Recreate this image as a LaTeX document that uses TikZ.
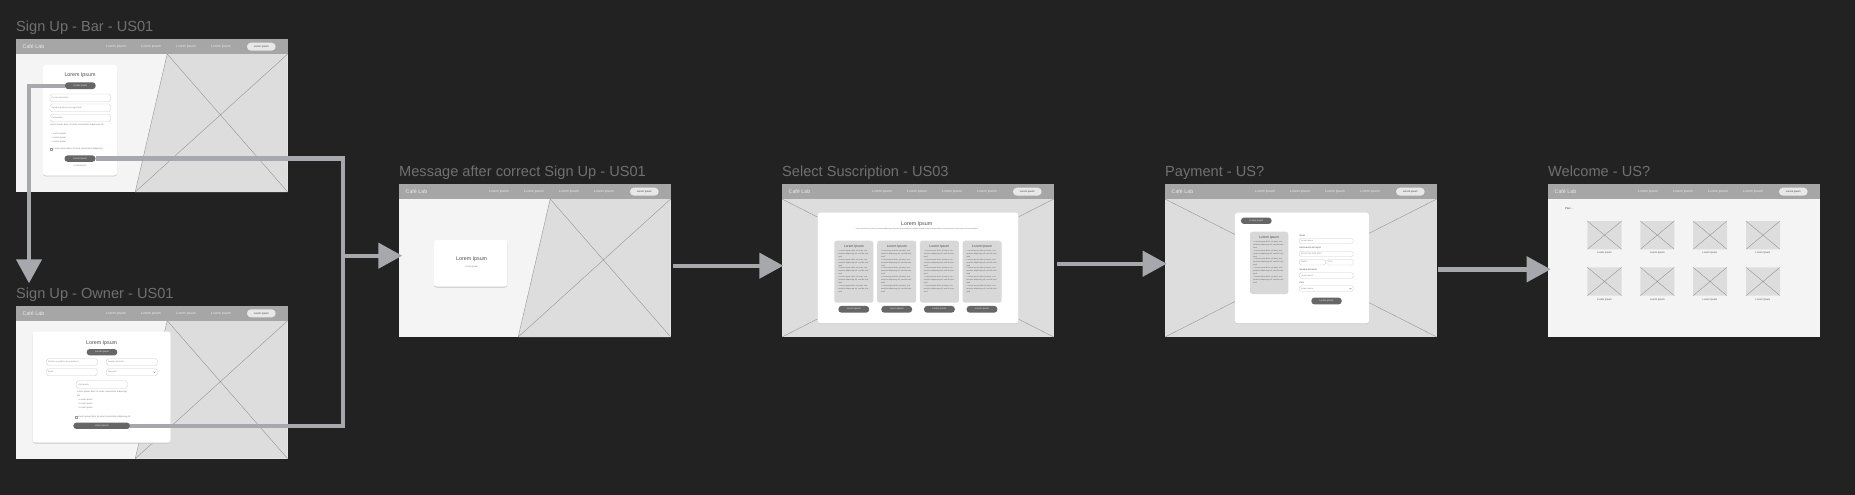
\documentclass[tikz,border=0pt]{standalone}
\usepackage{fontspec}
\setmainfont{Liberation Sans}
\usetikzlibrary{arrows.meta}
\definecolor{bgc}{HTML}{222222}
\definecolor{navc}{HTML}{A6A6A6}
\definecolor{bodyc}{HTML}{F4F4F4}
\definecolor{imgc}{HTML}{DDDDDD}
\definecolor{xlc}{HTML}{8E8E8E}
\definecolor{btnc}{HTML}{666666}
\definecolor{pillc}{HTML}{E8E8E8}
\definecolor{colc}{HTML}{D8D8D8}
\definecolor{conc}{HTML}{A7A8AC}
\definecolor{ttlc}{HTML}{707070}
\definecolor{txc}{HTML}{7A7A7A}
\tikzset{
 ttl/.style={font=\fontsize{14.6}{17}\selectfont,text=ttlc,anchor=base west,inner sep=0},
 xl/.style={draw=xlc,line width=0.35pt},
 btn/.style={fill=btnc,rounded corners=3pt,inner sep=0,text=white!92!black,font=\fontsize{2.4}{3}\selectfont},
 ct5/.style={font=\fontsize{5.3}{6}\selectfont,text=black!70,inner sep=0},
 ct3/.style={font=\fontsize{3.4}{4}\selectfont,text=black!70,inner sep=0},
 tx/.style={font=\fontsize{2.2}{4}\selectfont,text=txc,inner sep=0,align=left},
 bul/.style={font=\fontsize{1.9}{2.9}\selectfont,text=black!60,inner sep=0,align=left},
 ph/.style={font=\fontsize{2.1}{3}\selectfont,text=black!45,inner sep=0},
 fld/.style={draw=black!20,fill=white,rounded corners=1.8pt,line width=0.3pt},
 conn/.style={draw=conc,line width=4.4pt},
 arr/.style={-{Triangle[length=24pt,width=25pt]}},
}
\newcommand\wfnav[2]{%
 \begin{scope}[shift={(#1,#2)}]
 \fill[navc] (0,0) rectangle (271.7,14.7);
 \node[anchor=west,font=\fontsize{5.3}{6}\selectfont,text=white!92!black,inner sep=0] at (6.5,7.35) {Café Lab};
 \foreach \xx in {100,135,170,205} {\node[font=\fontsize{3.4}{4}\selectfont,text=white!92!black,inner sep=0] at (\xx,7.35) {Lorem ipsum};}
 \node[fill=pillc,rounded corners=4pt,minimum width=28.7pt,minimum height=8pt,inner sep=0,font=\fontsize{2.6}{3}\selectfont,text=black!75] at (245.3,7.35) {Lorem ipsum};
 \end{scope}}
\newcommand\wfsplit[2]{%
 \begin{scope}[shift={(#1,#2)}]
 \fill[bodyc] (0,14.7) rectangle (271.7,152.7);
 \fill[imgc] (151.2,14.7) -- (271.7,14.7) -- (271.7,152.7) -- (119.2,152.7) -- cycle;
 \draw[xl] (151.2,14.7) -- (271.7,152.7) (271.7,14.7) -- (119.2,152.7);
 \draw[xl] (151.2,14.7) -- (119.2,152.7);
 \end{scope}}
\newcommand\wffull[2]{%
 \begin{scope}[shift={(#1,#2)}]
 \fill[imgc] (0,14.7) rectangle (271.7,152.7);
 \draw[xl] (0,14.7) -- (271.7,152.7) (271.7,14.7) -- (0,152.7);
 \end{scope}}
\newcommand\wfplain[2]{%
 \begin{scope}[shift={(#1,#2)}]
 \fill[bodyc] (0,14.7) rectangle (271.7,152.7);
 \end{scope}}
\newcommand\wfcard[4]{%
 \fill[black!22,rounded corners=2.5pt] (#1,{#2+0.8}) rectangle (#3,{#4+0.8});
 \fill[white,rounded corners=2.5pt] (#1,#2) rectangle (#3,#4);}
\newcommand\wffield[5]{%
 \draw[fld] (#1,#2) rectangle (#3,#4);
 \node[ph,anchor=west] at ({#1+1.5},{(#2+#4)/2}) {#5};}
\newcommand\wfchev[2]{%
 \draw[black!45,line width=0.3pt] ({#1-1},{#2-0.6}) -- (#1,{#2+0.5}) -- ({#1+1},{#2-0.6});}
\newcommand\wfthumb[4]{%
 \fill[imgc,rounded corners=2pt] (#1,#2) rectangle (#3,#4);
 \draw[xl] (#1,#2) -- (#3,#4) (#3,#2) -- (#1,#4);}
\begin{document}
\begin{tikzpicture}[x=1pt,y=-1pt]
\fill[bgc] (0,0) rectangle (1855,495);
\useasboundingbox (0,0) rectangle (1855,495);

% ---------- titles ----------
\node[ttl] (t1) at (16,31.8) {Sign Up - Bar - US01};
\node[ttl] (t2) at (16,298.5) {Sign Up - Owner - US01};
\node[ttl] (t3) at (399,176.8) {Message after correct Sign Up - US01};
\node[ttl] (t4) at (782,176.8) {Select Suscription - US03};
\node[ttl] (t5) at (1165,176.8) {Payment - US?};
\node[ttl] (t6) at (1548,176.8) {Welcome - US?};

% ---------- frame 1 ----------
\wfsplit{16}{39.3}\wfnav{16}{39.3}
\wfcard{43}{65}{117}{175.5}
\node[ct5] at (80,75.7) {Lorem Ipsum};
\node[btn,minimum width=30.7pt,minimum height=6.7pt] (b1a) at (80.3,85.7) {Lorem ipsum};
\wffield{50}{94}{110.7}{101.7}{Correo electrónico}
\wffield{50}{104}{110.7}{111.7}{Nombre del bar/Local registrado}
\wffield{50}{114.3}{110.7}{121.7}{Contraseña}
\node[tx,anchor=north west,text width=60pt] at (50,124.2) {Lorem ipsum dolor sit amet consectetur adipiscing elit};
\node[tx,anchor=north west,text width=30pt] at (51.5,132.5) {• Lorem ipsum\\• Lorem ipsum\\• Lorem ipsum};
\draw[black!40,line width=0.3pt] (50.3,147.7) rectangle (52.3,149.7);
\node[tx,anchor=west] at (53.5,148.7) {Lorem ipsum dolor sit amet consectetur adipiscing};
\node[btn,minimum width=31pt,minimum height=6.3pt] (b1b) at (80,158.6) {Lorem ipsum};
\node[tx] at (80,165.8) {Lorem ipsum};

% ---------- frame 2 ----------
\wfsplit{16}{306}\wfnav{16}{306}
\wfcard{32.7}{331.7}{170.7}{442.7}
\node[ct5] at (101.7,343) {Lorem Ipsum};
\node[btn,minimum width=30.6pt,minimum height=6.3pt] (b2a) at (102,352.2) {Lorem ipsum};
\wffield{46.3}{358.7}{97.3}{365.3}{Nombre y apellido del propietario}
\wffield{106.3}{358.7}{157.3}{365.3}{Nombre del local}
\wffield{46.3}{368.7}{97.3}{375.7}{Email}
\wffield{106.3}{368.7}{157.3}{375.7}{Dirección}
\wfchev{154.5}{372.2}
\wffield{76.3}{380.7}{127.3}{388.3}{Contraseña}
\node[tx,anchor=north west,text width=50pt] at (77,390.8) {Lorem ipsum dolor sit amet consectetur adipiscing elit};
\node[tx,anchor=north west,text width=30pt] at (78,399.2) {• Lorem ipsum\\• Lorem ipsum\\• Lorem ipsum};
\draw[black!40,line width=0.3pt] (75,415.7) rectangle (77,417.7);
\node[tx,anchor=west] at (78,416.7) {Lorem ipsum dolor sit amet consectetur adipiscing elit};
\node[btn,minimum width=56.7pt,minimum height=6.3pt] (b2b) at (101.7,425.8) {Lorem ipsum};

% ---------- frame 3 ----------
\wfsplit{399}{184.3}\wfnav{399}{184.3}
\wfcard{434}{240}{507.3}{286.7}
\node[ct5] (m3) at (471.7,259) {Lorem Ipsum};
\node[tx] at (471.7,267) {Lorem ipsum};

% ---------- frame 4 ----------
\wffull{782}{184.3}\wfnav{782}{184.3}
\wfcard{817.7}{212.7}{1018.3}{323.3}
\node[ct5] at (916.7,224) {Lorem Ipsum};
\node[font=\fontsize{1.6}{2}\selectfont,text=black!60,inner sep=0] at (916.7,229) {Lorem ipsum dolor sit amet consectetur adipiscing elit sed do eiusmod tempor incididunt ut labore et dolore magna aliqua ut enim ad minim veniam quis nostrud exercitation};
\foreach \cx/\nm in {853.8/a, 896.7/b, 939.4/c, 982/d} {
 \fill[colc,rounded corners=2.5pt] ({\cx-19.5},240.7) rectangle ({\cx+19.5},302.7);
 \node[ct3] at (\cx,246.3) {Lorem Ipsum};
 \node[bul,text width=31pt,anchor=north] at (\cx,250) {• Lorem ipsum dolor sit amet, consectetur adipiscing elit, sed do eiusmod\\• Lorem ipsum dolor sit amet, consectetur adipiscing elit, sed do eiusmod\\• Lorem ipsum dolor sit amet, consectetur adipiscing elit, sed do eiusmod\\• Lorem ipsum dolor sit amet, consectetur adipiscing elit, sed do eiusmod\\• Lorem ipsum dolor sit amet, consectetur adipiscing elit, sed do eiusmod};
 \node[btn,minimum width=30.7pt,minimum height=6.7pt] (s\nm) at (\cx,309.3) {Lorem ipsum};
}

% ---------- frame 5 ----------
\wffull{1165}{184.3}\wfnav{1165}{184.3}
\wfcard{1235}{212.7}{1369}{323.3}
\node[btn,minimum width=30.7pt,minimum height=6.3pt] (p0) at (1256.3,220.8) {Lorem ipsum};
\fill[colc,rounded corners=2.5pt] (1250,231.7) rectangle (1288.3,294);
\node[ct3] at (1269.2,237.3) {Lorem Ipsum};
\node[bul,text width=32pt,anchor=north] at (1269.2,241) {• Lorem ipsum dolor sit amet, consectetur adipiscing elit, sed do eiusmod\\• Lorem ipsum dolor sit amet, consectetur adipiscing elit, sed do eiusmod\\• Lorem ipsum dolor sit amet, consectetur adipiscing elit, sed do eiusmod\\• Lorem ipsum dolor sit amet, consectetur adipiscing elit, sed do eiusmod\\• Lorem ipsum dolor sit amet, consectetur adipiscing elit, sed do eiusmod};
\node[tx,anchor=west,text=black!70] at (1299.3,235.3) {Email};
\wffield{1299.3}{238.3}{1353.3}{243.7}{Lorem ipsum}
\node[tx,anchor=west,text=black!70] at (1299.3,248.3) {Información de tarjeta};
\wffield{1299.3}{251.3}{1353.3}{256.7}{1234 1234 1234 1234}
\wffield{1299.3}{259.3}{1325.7}{265}{MM/YY}
\wffield{1326.7}{259.3}{1353.3}{265}{CVC}
\node[tx,anchor=west,text=black!70] at (1299.3,269.3) {Nombre del titular};
\wffield{1299.3}{272.7}{1353.3}{278.3}{Lorem ipsum}
\node[tx,anchor=west,text=black!70] at (1299.3,282.3) {País};
\wffield{1299.3}{285.7}{1353.3}{291.3}{Lorem ipsum}
\wfchev{1350.5}{288.7}
\node[btn,minimum width=30.4pt,minimum height=6.6pt] (p1) at (1326.5,301) {Lorem ipsum};

% ---------- frame 6 ----------
\wfplain{1548}{184.3}\wfnav{1548}{184.3}
\node[font=\fontsize{2.8}{3.4}\selectfont,text=black!70,anchor=west,inner sep=0] at (1565,208.7) {Plan ...};
\foreach \xa/\xb in {1587.3/1621.7, 1640.3/1674.3, 1693/1727, 1746/1780} {
 \wfthumb{\xa}{221}{\xb}{249.3}
 \wfthumb{\xa}{267.3}{\xb}{295.7}
 \node[font=\fontsize{2.5}{3}\selectfont,text=black!70,inner sep=0] at ({(\xa+\xb)/2},253.3) {Lorem Ipsum};
 \node[font=\fontsize{2.5}{3}\selectfont,text=black!70,inner sep=0] at ({(\xa+\xb)/2},299.7) {Lorem Ipsum};
}

% ---------- connectors ----------
\coordinate (a1end) at (29,283.3);
\coordinate (jn) at (342.7,255.7);
\coordinate (a2end) at (402.3,255.7);
\coordinate (a3s) at (672.7,265.7);
\coordinate (a3e) at (783.3,265.7);
\coordinate (a4s) at (1056.7,263.7);
\coordinate (a4e) at (1166.7,263.7);
\coordinate (a5s) at (1437.7,269.3);
\coordinate (a5e) at (1550.7,269.3);
\draw[conn,arr] (b1a.west) -| (a1end);
\draw[conn] (b1b.east) -| (jn) |- (b2b.east);
\draw[conn,arr] (jn) -- (a2end);
\draw[conn,arr] (a3s) -- (a3e);
\draw[conn,arr] (a4s) -- (a4e);
\draw[conn,arr] (a5s) -- (a5e);
\end{tikzpicture}
\end{document}
